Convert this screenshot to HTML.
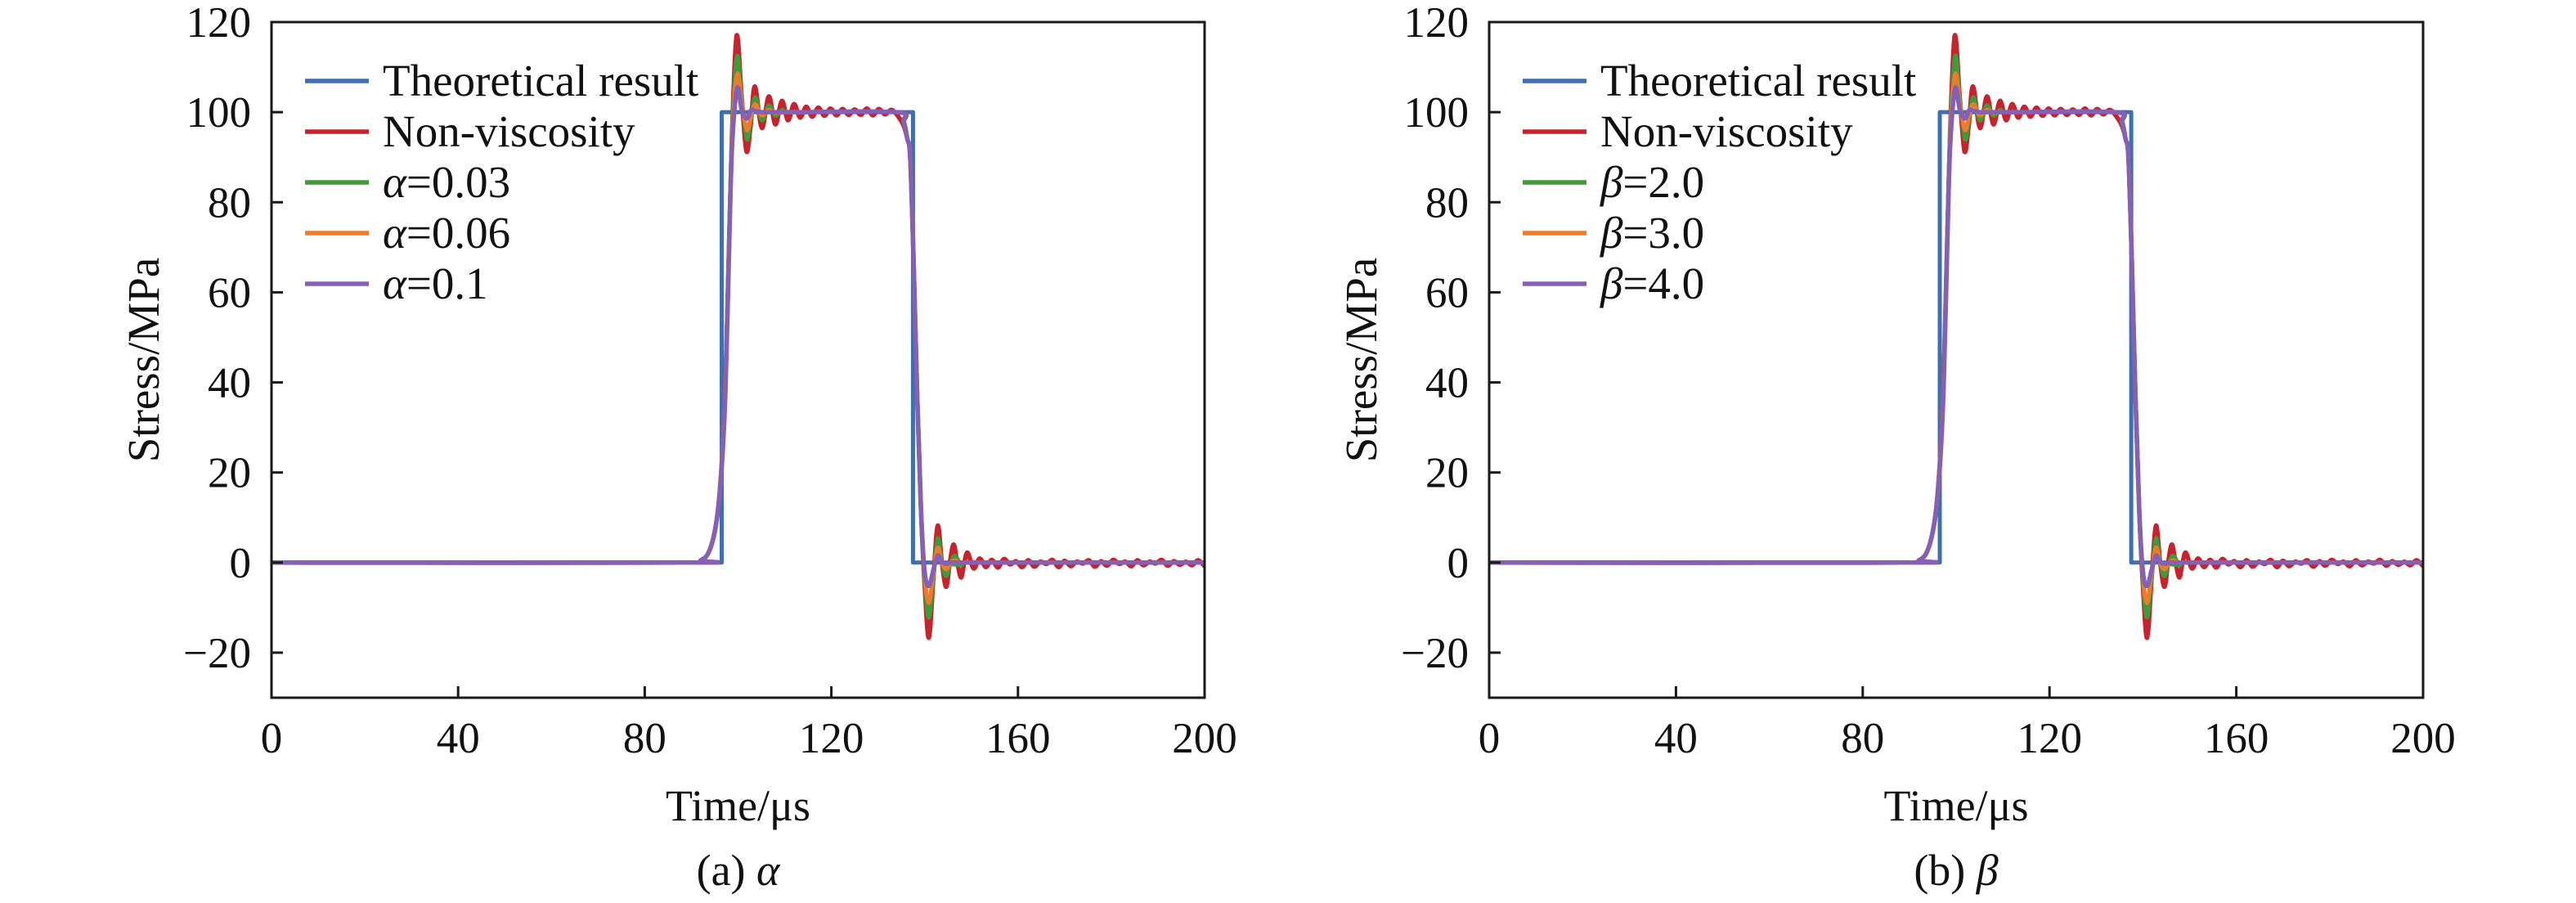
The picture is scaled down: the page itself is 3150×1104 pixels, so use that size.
<!DOCTYPE html>
<html>
<head>
<meta charset="utf-8">
<style>
  html,body{margin:0;padding:0;background:#fff;}
  svg{display:block;}
  text{font-family:"Liberation Serif","DejaVu Serif",serif;fill:#111;}
</style>
</head>
<body>
<svg id="fig" width="3150" height="1104" viewBox="0 0 3150 1104" xmlns="http://www.w3.org/2000/svg"></svg>
<script>
// ---------- shared axis ticks ----------
const xTicks = [0, 40, 80, 120, 160, 200];
const yTicks = [-20, 0, 20, 40, 60, 80, 100, 120];
const xTickLabels = ["0", "40", "80", "120", "160", "200"];
const yTickLabels = ["\u221220", "0", "20", "40", "60", "80", "100", "120"];

// ---------- chart (a) alpha ----------
const aTheoT = [0, 96.5, 96.5, 137.5, 137.5, 200];
const aTheoV = [0, 0, 100, 100, 0, 0];
const aRedT = [0,88,92,94,95.5,96.5,97.3,98,98.7,99.7,100.8,101.8,102.7,103.6,105.1,106.6,108,109.4,110.7,
  112,113.3,114.6,115.9,117.2,118.5,119.8,121.1,122.4,123.7,125,126.3,127.6,128.9,130.2,131.5,132.8,
  134,135.5,136.3,136.9,137.6,138.4,139.2,140,140.9,141.9,142.8,143.7,144.6,145.4,146.2,147,147.8,148.5,149.2,
  150.5,151.8,153.1,154.4,155.7,157,158.3,159.6,160.9,162.2,163.5,164.8,166.1,167.4,168.7,170,171.3,172.6,173.9,175.2,176.5,177.8,179.1,180.4,181.7,183,184.3,185.6,186.9,188.2,189.5,190.8,192.1,193.4,194.7,196,197.3,198.6,200];
const aRedV = [0,0,0.5,3,10,22,40,68,95,117,103,91.3,97,105.7,96.5,103.5,97.3,102.5,98.2,
  101.8,98.8,101.2,99,101,99.2,100.8,99.3,100.7,99.4,100.6,99.4,100.8,99.3,100.7,99.5,100.5,
  99.5,97,94,90,68,37,12,-5,-16.7,-3,8.2,0,-5.4,0,4,0,-3.3,0,2.2,
  -1.3,0.9,-1.0,0.6,-1.1,0.8,-0.4,0.3,-1.0,0.5,-0.9,0.2,-0.3,0.6,-1.0,0.4,-0.8,0.2,-0.2,0.5,-0.9,0.3,-0.7,0.6,-0.3,0.2,-0.8,0.5,-0.6,0.2,-0.2,0.6,-0.7,0.3,-0.5,0.2,-0.6,0.5,-0.8];
const aViscT = [0,88,92,94,95.5,96.5,97.3,98,98.7,99.8,100.8,101.9,102.8,103.7,105.1,106.6,108,109.5,112,
  134,135.5,136.3,136.9,137.6,138.4,139.2,140,140.9,141.9,142.8,143.7,144.6,145.6,146.5,148,150,200];
const aGreenV = [0,0,0.5,3,10,22,40,68,95,112.4,103,94,98.5,103.3,98.2,101.5,99.2,100.5,100,
  100,97.5,94,90,68,37,12,-4,-12.2,-3,5.4,0,-3,0,1.5,-0.5,0,0];
const aOrangeV = [0,0,0.5,3,10,22,40,68,94,108.4,102,96,99.3,101.8,99.3,100.5,99.8,100.1,100,
  100,97.8,94,90,68,37,12,-3,-8.9,-2,3.3,0,-1.5,0,0.5,0,0,0];
const aPurpleV = [0,0,0.5,3,10,21,38,66,92,105.3,100.5,98.6,100.5,100.3,100,100,100,100,100,
  100,98,94,90,68,37,12,-2,-5.2,-1.5,1.5,0.2,-0.3,0,0,0,0,0];
const aLegend = ["Theoretical result", "Non-viscosity", "=0.03", "=0.06", "=0.1"];

// ---------- chart (b) beta ----------
const bTheoT = [0, 96.5, 96.5, 137.5, 137.5, 200];
const bTheoV = [0, 0, 100, 100, 0, 0];
const bRedT = aRedT.slice();
const bRedV = aRedV.slice();
const bViscT = aViscT.slice();
const bGreenV = [0,0,0.5,3,10,22,40,68,95,112.4,103,94,98.5,103.3,98.2,101.5,99.2,100.5,100,
  100,97.5,94,90,68,37,12,-4,-12.2,-3,5.4,0,-3,0,1.5,-0.5,0,0];
const bOrangeV = [0,0,0.5,3,10,22,40,68,94,108.4,102,96,99.3,101.8,99.3,100.5,99.8,100.1,100,
  100,97.8,94,90,68,37,12,-3,-8.9,-2,3.3,0,-1.5,0,0.5,0,0,0];
const bPurpleV = [0,0,0.5,3,10,21,38,66,92,105.3,100.5,98.6,100.5,100.3,100,100,100,100,100,
  100,98,94,90,68,37,12,-2,-5.2,-1.5,1.5,0.2,-0.3,0,0,0,0,0];
const bLegend = ["Theoretical result", "Non-viscosity", "=2.0", "=3.0", "=4.0"];

const NS = "http://www.w3.org/2000/svg";
const svg = document.getElementById("fig");
function mk(tag, attrs, parent) {
  const e = document.createElementNS(NS, tag);
  for (const k in attrs) e.setAttribute(k, attrs[k]);
  (parent || svg).appendChild(e);
  return e;
}

function smoothPath(xs, ys) {
  let d = "M" + xs[0].toFixed(2) + "," + ys[0].toFixed(2);
  const n = Math.min(xs.length, ys.length);
  for (let i = 0; i < n - 1; i++) {
    const x0 = xs[Math.max(i - 1, 0)], y0 = ys[Math.max(i - 1, 0)];
    const x1 = xs[i], y1 = ys[i], x2 = xs[i + 1], y2 = ys[i + 1];
    const x3 = xs[Math.min(i + 2, n - 1)], y3 = ys[Math.min(i + 2, n - 1)];
    const c1x = x1 + (x2 - x0) / 6, c1y = y1 + (y2 - y0) / 6;
    const c2x = x2 - (x3 - x1) / 6, c2y = y2 - (y3 - y1) / 6;
    d += " C" + c1x.toFixed(2) + "," + c1y.toFixed(2) + " " + c2x.toFixed(2) + "," + c2y.toFixed(2) + " " + x2.toFixed(2) + "," + y2.toFixed(2);
  }
  return d;
}

function drawChart(id, L, R, caption, greek, theoT, theoV, redT, redV, viscT, gV, oV, pV, legend) {
  const T = 27, B = 853, X0 = 0, X1 = 200, Y0 = -30, Y1 = 120;
  const xs = t => L + (t - X0) / (X1 - X0) * (R - L);
  const ys = v => B - (v - Y0) / (Y1 - Y0) * (B - T);
  const g = mk("g", {});
  
  

  const clip = mk("clipPath", {id: "clip-" + id}, g);
  mk("rect", {x: L, y: T, width: R - L, height: B - T}, clip);

  const series = [
    {name: "theoretical-result-line", t: theoT, v: theoV, c: "#3c70ae", w: 5, smooth: false},
    {name: "non-viscosity-line", t: redT, v: redV, c: "#c8232c", w: 5.5, smooth: true},
    {name: "series-3-line", t: viscT, v: gV, c: "#3f9a3a", w: 5, smooth: true},
    {name: "series-4-line", t: viscT, v: oV, c: "#ee7a2a", w: 5, smooth: true},
    {name: "series-5-line", t: viscT, v: pV, c: "#8660b5", w: 5.5, smooth: true}
  ];
  const sg = mk("g", {"clip-path": "url(#clip-" + id + ")"}, g);
  series.forEach(s => {
    const px = s.t.map(xs), py = s.v.map(ys);
    let d;
    if (s.smooth) d = smoothPath(px, py);
    else d = "M" + px.map((x, i) => x.toFixed(2) + "," + py[i].toFixed(2)).join(" L");
    const p = mk("path", {d: d, fill: "none", stroke: s.c, "stroke-width": s.w, "stroke-linejoin": "round", "stroke-linecap": "round"}, sg);
    
    
  });

  const frame = mk("rect", {x: L, y: T, width: R - L, height: B - T, fill: "none", stroke: "#1a1a1a", "stroke-width": 3}, g);
  
  

  xTicks.forEach((t, i) => {
    const x = xs(t);
    if (i > 0 && i < xTicks.length - 1) mk("line", {x1: x, y1: B, x2: x, y2: B - 14, stroke: "#1a1a1a", "stroke-width": 3}, g);
    const tx = mk("text", {x: x, y: 920, "font-size": 53, "text-anchor": "middle"}, g);
    tx.textContent = xTickLabels[i];
    
    
  });
  yTicks.forEach((v, i) => {
    const y = ys(v);
    mk("line", {x1: L, y1: y, x2: L + 14, y2: y, stroke: "#1a1a1a", "stroke-width": 3}, g);
    const ty = mk("text", {x: L - 25, y: y + 18, "font-size": 53, "text-anchor": "end"}, g);
    ty.textContent = yTickLabels[i];
    
    
  });

  const xt = mk("text", {x: (L + R) / 2, y: 1003, "font-size": 54, "text-anchor": "middle"}, g);
  xt.textContent = "Time/\u03bcs";
  
  
  const ytx = L - 138, yty = (T + B) / 2;
  const yt = mk("text", {x: ytx, y: yty, "font-size": 55, "text-anchor": "middle", transform: "rotate(-90 " + ytx + " " + yty + ")"}, g);
  yt.textContent = "Stress/MPa";
  
  

  const cap = mk("text", {x: (L + R) / 2, y: 1082, "font-size": 54, "text-anchor": "middle"}, g);
  cap.textContent = caption + " ";
  const capG = mk("tspan", {"font-style": "italic"}, cap);
  capG.textContent = greek;
  
  

  const lg = mk("g", {}, g);
  
  
  series.forEach((s, i) => {
    const cy = 99 + i * 62;
    const ln = mk("line", {x1: L + 41, y1: cy, x2: L + 119, y2: cy, stroke: s.c, "stroke-width": 5.5}, lg);
    
    
    const tx = mk("text", {x: L + 136, y: cy + 18, "font-size": 55}, lg);
    if (i >= 2) {
      const ts = mk("tspan", {"font-style": "italic"}, tx);
      ts.textContent = greek;
      const ts2 = mk("tspan", {}, tx);
      ts2.textContent = legend[i];
    } else {
      tx.textContent = legend[i];
    }
    
    
  });
}

drawChart("a", 332, 1473, "(a)", "\u03b1", aTheoT, aTheoV, aRedT, aRedV, aViscT, aGreenV, aOrangeV, aPurpleV, aLegend);
drawChart("b", 1821, 2963, "(b)", "\u03b2", bTheoT, bTheoV, bRedT, bRedV, bViscT, bGreenV, bOrangeV, bPurpleV, bLegend);
</script>
</body>
</html>
